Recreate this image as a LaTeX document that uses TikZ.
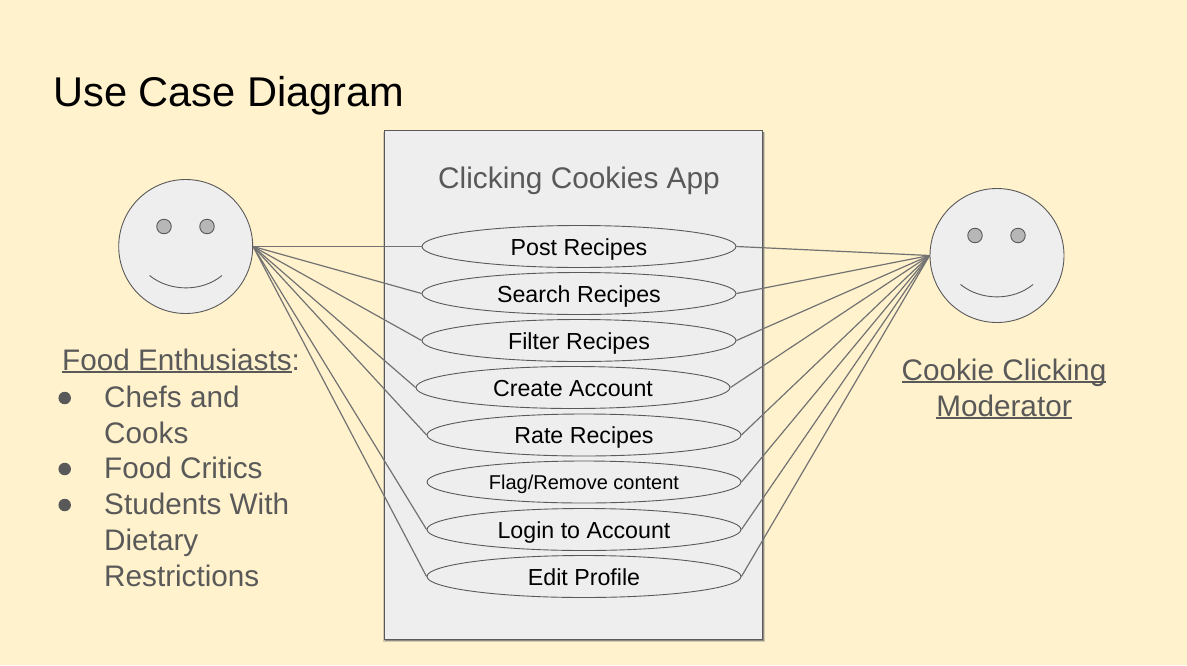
\documentclass[tikz,border=0pt]{standalone}
\usepackage{fontspec}
\setmainfont{Liberation Sans}
\usetikzlibrary{shapes.geometric}
\definecolor{bg}{HTML}{FFF2CC}
\definecolor{fillg}{HTML}{EEEEEE}
\definecolor{txt}{HTML}{595959}
\definecolor{edge}{HTML}{595959}
\definecolor{eye}{HTML}{B7B7B7}
\newcommand\ulx[1]{\setbox0\hbox{#1}\rlap{\rule[-3pt]{\wd0}{1.7pt}}\box0}
\tikzset{x=1pt,y=-1pt,
 uc/.style={draw=edge,line width=0.9pt,fill=fillg,ellipse,inner sep=0pt,minimum width=314pt,minimum height=42pt,font=\fontsize{23.2}{26}\selectfont,text=black,text height=17pt,text depth=0pt},
 link/.style={draw=edge!85!white,line width=1.2pt},
 face/.style={circle,draw=edge,line width=0.9pt,fill=fillg,minimum size=134pt,inner sep=0pt},
 eyeb/.style={circle,draw=edge,line width=0.9pt,fill=eye,minimum size=14.5pt,inner sep=0pt},
 lab/.style={anchor=base west,inner sep=0pt,text=txt,font=\fontsize{29.7}{32}\selectfont},
 bul/.style={circle,fill=txt,minimum size=12.5pt,inner sep=0pt}}
\begin{document}
\begin{tikzpicture}
\useasboundingbox (0,0) rectangle (1187,665);
\fill[bg] (0,0) rectangle (1187,665);
\node[anchor=base west,inner sep=0pt,font=\fontsize{41.6}{44}\selectfont] (title) at (53,106) {Use Case Diagram};
\fill[black!45,opacity=.4] (382.5,132) rectangle (765,642);
\fill[black!60,opacity=.6] (385,132) rectangle (763.5,640.5);
\node[draw=edge,line width=0.9pt,fill=fillg,minimum width=378pt,minimum height=509pt,inner sep=0pt] (sys) at (573,384.5) {};
\node[anchor=base,inner sep=0pt,text=txt,font=\fontsize{29.8}{32}\selectfont] (apptitle) at (579,188) {Clicking Cookies App};
\node[face] (a1) at (185.7,246.5) {};
\node[face] (a2) at (997,255.5) {};
\node[eyeb] (e1) at (164,226.5) {};
\node[eyeb] (e2) at (207,226.5) {};
\node[eyeb] (e3) at (975,235.5) {};
\node[eyeb] (e4) at (1018,235.5) {};
\draw[edge,line width=0.9pt] (149.5,275.5) .. controls (170,292) and (202,292) .. (222,275.5);
\draw[edge,line width=0.9pt] (960.5,284.5) .. controls (981,301) and (1013,301) .. (1033,284.5);
\coordinate (l) at (a1.east); \coordinate (r) at (a2.west);
\foreach \n/\x/\y/\t in {
 u1/579/246.5/Post Recipes,
 u2/579/293.5/Search Recipes,
 u3/579/340.5/Filter Recipes,
 u4/573/387.5/Create Account,
 u5/584/435/Rate Recipes,
 u7/584/529.5/Login to Account,
 u8/584/576.5/Edit Profile}{
 \node[uc] (\n) at (\x,\y) {\t};
 \draw[link] (l) -- (\n.west);
 \draw[link] (r) -- (\n.east);
}
\node[uc,font=\fontsize{20}{22}\selectfont,text height=14.5pt] (u6) at (584,482) {Flag/Remove content};
\draw[link] (r) -- (u6.east);
\node[lab] (f1) at (62,370) {\ulx{Food Enthusiasts}:};
\node[lab] (f2) at (104,407) {Chefs and};
\node[lab] (f3) at (104,443) {Cooks};
\node[lab] (f4) at (104,478) {Food Critics};
\node[lab] (f5) at (104,514) {Students With};
\node[lab] (f6) at (104,550) {Dietary};
\node[lab] (f7) at (104,586) {Restrictions};
\node[bul] (b1) at (64.7,398) {};
\node[bul] (b2) at (64.7,469) {};
\node[bul] (b3) at (64.7,505) {};
\node[lab,anchor=base] (m1) at (1004,380) {\ulx{Cookie Clicking}};
\node[lab,anchor=base] (m2) at (1004,416) {\ulx{Moderator}};
\end{tikzpicture}
\end{document}
